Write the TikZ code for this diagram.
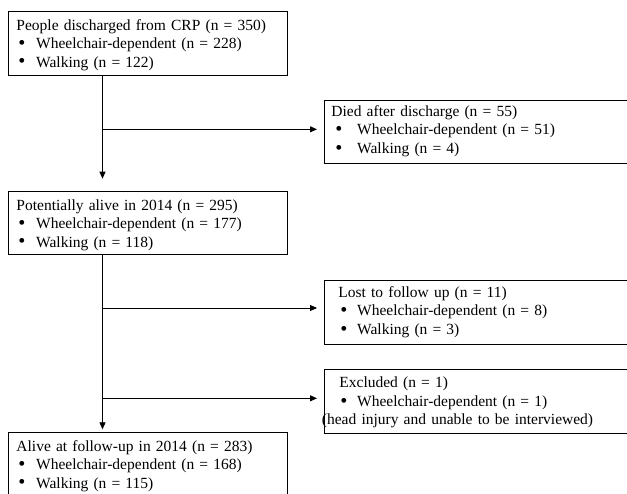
\documentclass[tikz,border=0pt]{standalone}
\usepackage{fontspec}
\setmainfont{Liberation Serif}
\usetikzlibrary{arrows.meta}
\newcommand\bigbullet{\raisebox{-0.8pt}{\scalebox{1.3}{\textbullet}}}
\begin{document}
\begin{tikzpicture}[x=1pt,y=-1pt]
    \tikzstyle{box}=[draw,line width=0.9pt,anchor=north west,align=left,inner xsep=8pt,inner ysep=0pt,text width=263pt,font=\fontsize{15.5}{18.5}\selectfont]
    \tikzstyle{side}=[box,inner xsep=7pt,text width=316pt]
    \tikzstyle{arr}=[-{Triangle[length=7pt,width=6pt]},line width=0.9pt]
      \useasboundingbox (0,0) rectangle (627,494);
      \clip (0,0) rectangle (627,494);

      \node (disch) at (8,10.7) [box,text height=19pt,text depth=45.3pt]
        {People discharged from CRP (n = 350)\\
         \hspace*{1.8pt}\bigbullet\hspace{10.9pt}Wheelchair-dependent (n = 228)\\
         \hspace*{1.8pt}\bigbullet\hspace{10.9pt}Walking (n = 122)};
      \node (potent) at (8,190.7) [box,text height=19pt,text depth=44.6pt]
        {Potentially alive in 2014 (n = 295)\\
         \hspace*{1.8pt}\bigbullet\hspace{10.9pt}Wheelchair-dependent (n = 177)\\
         \hspace*{1.8pt}\bigbullet\hspace{10.9pt}Walking (n = 118)};
      \node (alive) at (8,432.3) [box,text height=18.4pt,text depth=60pt]
        {Alive at follow-up in 2014 (n = 283)\\
         \hspace*{1.8pt}\bigbullet\hspace{10.9pt}Wheelchair-dependent (n = 168)\\
         \hspace*{1.8pt}\bigbullet\hspace{10.9pt}Walking (n = 115)};

      \node (died) at (324,100) [side,text height=16pt,text depth=47.3pt]
        {Died after discharge (n = 55)\\
         \hspace*{3.8pt}\bigbullet\hspace{14.9pt}Wheelchair-dependent (n = 51)\\
         \hspace*{3.8pt}\bigbullet\hspace{14.9pt}Walking (n = 4)};
      \node (lost) at (324,280) [side,text height=17pt,text depth=47pt]
        {\hspace*{7pt}Lost to follow up (n = 11)\\
         \hspace*{8.8pt}\bigbullet\hspace{9.9pt}Wheelchair-dependent (n = 8)\\
         \hspace*{8.8pt}\bigbullet\hspace{9.9pt}Walking (n = 3)};
      \node (excl) at (324,369) [side,text height=18.3pt,text depth=45.7pt]
        {\hspace*{8pt}Excluded (n = 1)\\
         \hspace*{8.8pt}\bigbullet\hspace{9.9pt}Wheelchair-dependent (n = 1)\\
         \hspace*{-9.5pt}(head injury and unable to be interviewed)};

      \coordinate (j1) at (102.5,129.3);
      \coordinate (j2) at (102.5,308);
      \coordinate (j3) at (102.5,398.3);

      \path[arr,draw,shorten >=12pt] (disch.south -| j1) -- (potent.north -| j1);
      \path[arr,draw,shorten >=7pt] (j1) -- (j1 -| died.west);
      \path[arr,draw,shorten >=3pt] (potent.south -| j2) -- (alive.north -| j2);
      \path[arr,draw,shorten >=7pt] (j2) -- (j2 -| lost.west);
      \path[arr,draw,shorten >=7pt] (j3) -- (j3 -| excl.west);
  \end{tikzpicture}
\end{document}
